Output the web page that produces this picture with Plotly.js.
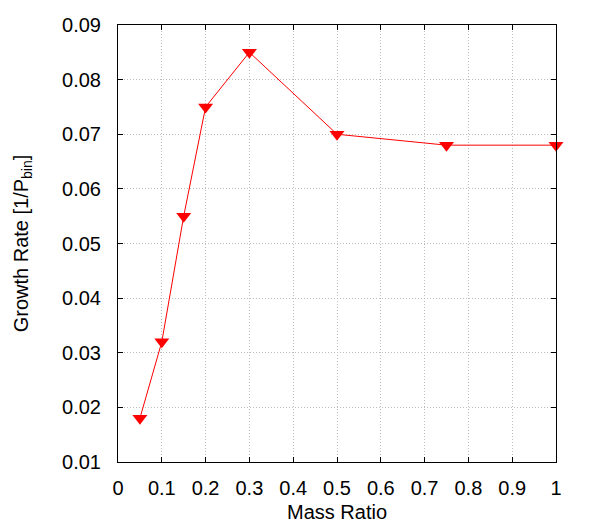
<!DOCTYPE html>
<html><head><meta charset="utf-8">
<script src="https://cdn.plot.ly/plotly-3.0.1.min.js"></script>
<style>body{margin:0;padding:0;background:#fff}#plot{width:597px;height:525px}</style>
</head><body><div id="plot"></div>
<script>
const massRatio = [0.05, 0.1, 0.15, 0.2, 0.3, 0.5, 0.75, 1.0];
const growthRate = [0.018, 0.032, 0.055, 0.075, 0.085, 0.070, 0.068, 0.068];
const xTicks = [0, 0.1, 0.2, 0.3, 0.4, 0.5, 0.6, 0.7, 0.8, 0.9, 1];
const xTickLabels = ['0', '0.1', '0.2', '0.3', '0.4', '0.5', '0.6', '0.7', '0.8', '0.9', '1'];
const yTicks = [0.01, 0.02, 0.03, 0.04, 0.05, 0.06, 0.07, 0.08, 0.09];
const yTickLabels = ['0.01', '0.02', '0.03', '0.04', '0.05', '0.06', '0.07', '0.08', '0.09'];

const font = {family: 'Liberation Sans, Arial, sans-serif', size: 20, color: '#000'};
const axisCommon = {
  showline: true, linecolor: '#000', linewidth: 1, mirror: 'ticks',
  ticks: 'inside', ticklen: 5, tickcolor: '#000', tickwidth: 1,
  showgrid: true, gridcolor: '#bdbdbd', griddash: '1px,2px', gridwidth: 1,
  zeroline: false, tickfont: font
};
Plotly.newPlot('plot', [{
  x: massRatio, y: growthRate, type: 'scatter', mode: 'lines+markers',
  line: {color: '#ff0000', width: 1},
  marker: {symbol: 'triangle-down', size: 13, color: '#ff0000'},
  cliponaxis: false
}], {
  width: 597, height: 525,
  margin: {l: 118, r: 41, t: 25, b: 63},
  paper_bgcolor: '#fff', plot_bgcolor: '#fff',
  showlegend: false,
  font: font,
  xaxis: Object.assign({}, axisCommon, {
    range: [0, 1], tickvals: xTicks, ticktext: xTickLabels,
    ticklabelstandoff: 8,
    title: {text: 'Mass Ratio', font: font, standoff: 6}
  }),
  yaxis: Object.assign({}, axisCommon, {
    range: [0.01, 0.09], tickvals: yTicks, ticktext: yTickLabels,
    ticklabelstandoff: 12,
    title: {text: 'Growth Rate [1/P<sub>bin</sub>]', font: font, standoff: 28}
  })
}, {displayModeBar: false, staticPlot: true});
</script></body></html>
